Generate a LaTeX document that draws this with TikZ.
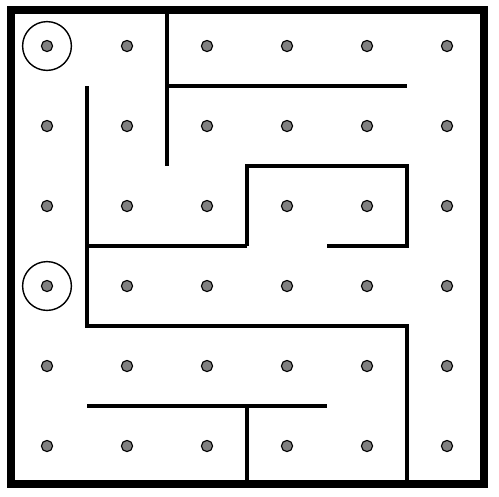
\documentclass[tikz,border=0pt]{standalone}
\usepackage{tikz}
\usetikzlibrary{positioning}

\tikzset{
  wall/.style={line width=0.05cm},
  dot/.style={circle, draw=black, fill=black!50, line width=0.4pt, inner sep=0pt, minimum size=0.14cm},
  goal/.style={circle, draw=black, line width=0.5pt, inner sep=0pt, minimum size=0.61cm}
}

\begin{document}
\begin{tikzpicture}[x=1cm,y=-1cm]
\useasboundingbox (-0.0875,-0.075) rectangle (6.15,6.125);
% outer frame
\draw[line width=0.1cm] (0.05,0.05) rectangle (5.96,5.97);
% inner walls
\draw[wall] (2,0) -- (2,2);
\draw[wall] (1,1) -- (1,4) -- (5,4) -- (5,6);
\draw[wall] (2,1) -- (5,1);
\draw[wall] (3,3) -- (3,2) -- (5,2) -- (5,3) -- (4,3);
\draw[wall] (1,3) -- (3,3);
\draw[wall] (1,5) -- (4,5);
\draw[wall] (3,5) -- (3,6);
% cells
\foreach \i in {0,...,5}
  \foreach \j in {0,...,5}
    \node[dot] (c-\i-\j) at (\i+0.5,\j+0.5) {};
\node[goal] (start) at (c-0-0) {};
\node[goal] (end) at (c-0-3) {};
\end{tikzpicture}
\end{document}
